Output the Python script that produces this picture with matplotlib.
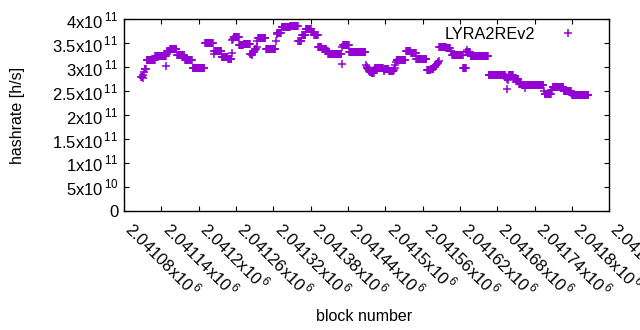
import numpy as np
import matplotlib.pyplot as plt
from matplotlib.ticker import FuncFormatter, MultipleLocator

plt.rcParams['font.family'] = ['Liberation Sans', 'DejaVu Sans']

# runs of blocks with the same hashrate (start block, end block, hashrate in 1e11 h/s)
run_start = [2041107, 2041110, 2041111, 2041112, 2041113, 2041116, 2041130, 2041148, 2041149,
             2041154, 2041165, 2041178, 2041190, 2041210, 2041224, 2041225, 2041237, 2041247,
             2041253, 2041254, 2041255, 2041256, 2041265, 2041272, 2041283, 2041286, 2041287,
             2041290, 2041291, 2041293, 2041294, 2041295, 2041308, 2041324, 2041325, 2041326,
             2041333, 2041347, 2041360, 2041366, 2041372, 2041381, 2041386, 2041392, 2041398,
             2041406, 2041408, 2041428, 2041430, 2041431, 2041432, 2041442, 2041469, 2041470,
             2041471, 2041472, 2041473, 2041474, 2041475, 2041476, 2041477, 2041478, 2041479,
             2041482, 2041483, 2041497, 2041498, 2041499, 2041506, 2041514, 2041515, 2041516,
             2041517, 2041518, 2041533, 2041541, 2041550, 2041567, 2041573, 2041578, 2041579,
             2041580, 2041581, 2041582, 2041583, 2041584, 2041585, 2041586, 2041587, 2041598,
             2041605, 2041607, 2041625, 2041630, 2041632, 2041633, 2041637, 2041666, 2041693,
             2041695, 2041696, 2041697, 2041698, 2041706, 2041715, 2041719, 2041725, 2041726,
             2041755, 2041756, 2041767, 2041769, 2041787, 2041799, 2041800]
run_end = [2041109, 2041110, 2041111, 2041112, 2041115, 2041129, 2041147, 2041148, 2041153,
           2041164, 2041177, 2041189, 2041209, 2041223, 2041224, 2041236, 2041246, 2041252,
           2041253, 2041254, 2041255, 2041264, 2041271, 2041282, 2041285, 2041286, 2041289,
           2041290, 2041292, 2041293, 2041294, 2041307, 2041323, 2041324, 2041325, 2041332,
           2041346, 2041359, 2041365, 2041371, 2041380, 2041385, 2041391, 2041397, 2041405,
           2041407, 2041427, 2041429, 2041430, 2041431, 2041441, 2041468, 2041469, 2041470,
           2041471, 2041472, 2041473, 2041474, 2041475, 2041476, 2041477, 2041478, 2041481,
           2041482, 2041496, 2041497, 2041498, 2041505, 2041513, 2041514, 2041515, 2041516,
           2041517, 2041532, 2041540, 2041549, 2041566, 2041572, 2041577, 2041578, 2041579,
           2041580, 2041581, 2041582, 2041583, 2041584, 2041585, 2041586, 2041597, 2041604,
           2041606, 2041624, 2041629, 2041631, 2041632, 2041636, 2041665, 2041692, 2041694,
           2041695, 2041696, 2041697, 2041705, 2041714, 2041718, 2041724, 2041725, 2041754,
           2041755, 2041766, 2041768, 2041786, 2041798, 2041799, 2041826]
run_value = [2.80, 2.77, 2.84, 2.90, 2.97, 3.15, 3.23, 3.03, 3.33,
             3.37, 3.26, 3.16, 2.99, 3.51, 3.28, 3.33, 3.21, 3.17,
             3.30, 3.56, 3.58, 3.62, 3.46, 3.49, 3.28, 3.25, 3.32,
             3.35, 3.38, 3.42, 3.55, 3.61, 3.37, 3.55, 3.70, 3.72,
             3.83, 3.87, 3.54, 3.67, 3.79, 3.74, 3.67, 3.42, 3.37,
             3.33, 3.28, 3.28, 3.06, 3.43, 3.46, 3.32, 3.04, 3.01,
             2.99, 2.97, 2.95, 2.93, 2.91, 2.90, 2.89, 2.88, 2.87,
             2.95, 2.99, 2.95, 2.92, 2.96, 2.92, 2.94, 2.99, 3.05,
             3.10, 3.16, 3.33, 3.30, 3.18, 2.94, 2.97, 3.00, 3.01,
             3.03, 3.04, 3.05, 3.07, 3.08, 3.10, 3.12, 3.42, 3.40,
             3.33, 3.26, 2.99, 3.31, 3.36, 3.31, 3.24, 2.83, 2.80,
             2.54, 2.76, 2.73, 2.83, 2.76, 2.66, 2.62, 2.57, 2.62,
             2.50, 2.45, 2.52, 2.58, 2.50, 2.47, 2.43]

blocks = np.concatenate([np.arange(s, e + 1) for s, e in zip(run_start, run_end)])
hashrate = np.concatenate([np.full(e - s + 1, v * 1e11) for s, e, v in zip(run_start, run_end, run_value)])


def sci(v, pos):
    if v == 0:
        return '0'
    e = int(np.floor(np.log10(abs(v)) + 1e-9))
    m = v / 10 ** e
    return '%gx10$^{\\,\\mathregular{%d}}$' % (m, e)


fig = plt.figure(figsize=(6.4, 3.3), dpi=100)
ax = fig.add_axes([0.194, 0.3606, 0.758, 0.581])
ax.plot(blocks, hashrate, linestyle='none', marker='+', ms=6, mew=1.1,
        color='#9400D3', label='LYRA2REv2')

ax.set_xlim(2041080, 2041860)
ax.set_ylim(0, 4e11)
ax.xaxis.set_major_locator(MultipleLocator(60))
ax.yaxis.set_major_locator(MultipleLocator(5e10))
ax.xaxis.set_major_formatter(FuncFormatter(sci))
ax.yaxis.set_major_formatter(FuncFormatter(sci))
ax.tick_params(direction='in', top=True, right=True, length=3.5, width=0.8, labelsize=12)
ax.tick_params(axis='y', pad=4)
ax.tick_params(axis='x', pad=14, labelrotation=-45)
plt.setp(ax.get_xticklabels(), ha='left', va='baseline', rotation_mode='anchor')
for sp in ax.spines.values():
    sp.set_linewidth(1)

ax.set_ylabel('hashrate [h/s]', fontsize=11.5)
ax.yaxis.set_label_coords(-0.205, 0.5)
ax.set_xlabel('block number', fontsize=11.5)
ax.xaxis.set_label_coords(0.495, -0.51)

ax.legend(loc='upper right', bbox_to_anchor=(0.955, 1.0), frameon=False, markerfirst=False,
          fontsize=11.7, handlelength=1.5, handletextpad=1.3, borderaxespad=0.05)

fig.savefig('out.png', dpi=100)
